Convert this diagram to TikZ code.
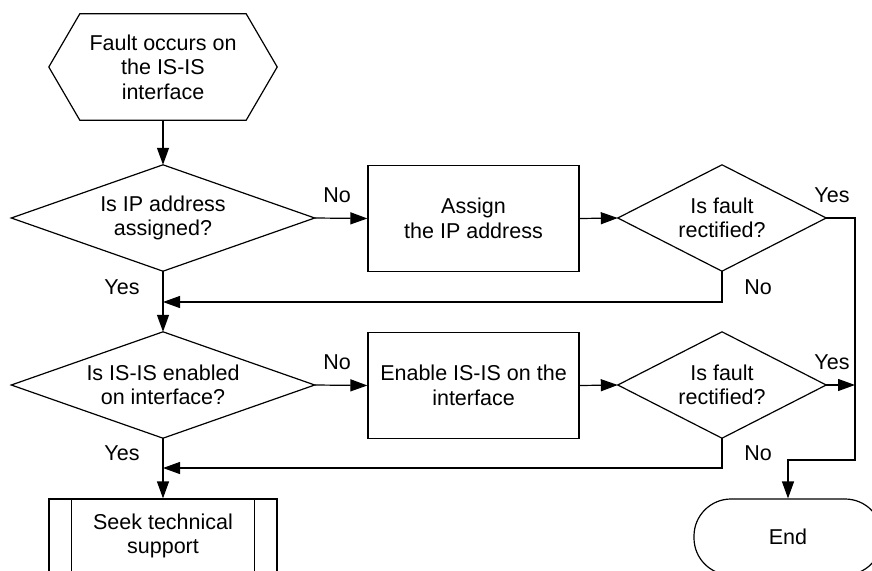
\documentclass[tikz,border=0pt]{standalone}
\usepackage{fontspec}
\setmainfont{Liberation Sans}
\usetikzlibrary{arrows.meta,calc}
\begin{document}
\begin{tikzpicture}[x=1pt,y=-1pt,
  font=\fontsize{21.5}{24.5}\selectfont,
  outline/.style={draw=black,line width=1.2pt},
  plain/.style={draw=black,line width=1.2pt},
  flow/.style={draw=black,line width=1.2pt,-{Triangle[length=17pt,width=12pt]}},
  frame/.style={inner sep=0pt,align=center,minimum width=#1},
  frame/.default=10pt,
  lbl/.style={inner sep=0pt}
]
\useasboundingbox (0,0) rectangle (872,570);
\clip (0,0) rectangle (872,570);

% blocks (outlines of hexagon and decisions are drawn below)
\node[frame=228pt,minimum height=106pt] (start) at (163,67) {Fault occurs on\\the IS-IS\\interface};
\node[frame=303pt,minimum height=106pt] (q1) at (163,218) {Is IP address\\assigned?};
\node[frame=211pt,minimum height=106pt,outline] (b1) at (473.5,218.5) {Assign\\the IP address};
\node[frame=208pt,minimum height=106pt] (q2) at (722,218) {Is fault\\rectified?};
\node[frame=303pt,minimum height=106pt] (q3) at (163,385) {Is IS-IS enabled\\on interface?};
\node[frame=211pt,minimum height=106pt,outline] (b2) at (473.5,385.5) {Enable IS-IS on the\\interface};
\node[frame=208pt,minimum height=106pt] (q4) at (722,385) {Is fault\\rectified?};
\node[frame=228pt,minimum height=74pt,outline] (s) at (163,536) {Seek technical\\support};
\node[frame=188pt,minimum height=76pt,outline,rounded corners=37pt] (e) at (788,537) {End};

% hexagon start symbol
\draw[outline] ([xshift=31pt]start.north west) -- ([xshift=-31pt]start.north east) -- (start.east)
  -- ([xshift=-31pt]start.south east) -- ([xshift=31pt]start.south west) -- (start.west) -- cycle;

% decision diamonds
\foreach \n in {q1,q2,q3,q4}
  \draw[outline] (\n.north) -- (\n.east) -- (\n.south) -- (\n.west) -- cycle;

% predefined-process side bars
\draw[plain] ([xshift=23pt]s.north west) -- ([xshift=23pt]s.south west);
\draw[plain] ([xshift=-23pt]s.north east) -- ([xshift=-23pt]s.south east);

% junction points
\coordinate (m1) at (163,302);
\coordinate (m2) at (163,468);
\coordinate (j1) at (855,460);

% connectors
\draw[flow] (start.south) -- (q1.north);
\draw[flow] (q1.east) -- (b1.west);
\draw[flow] (b1.east) -- (q2.west);
\draw[flow] (q2.south) |- (m1);
\draw[flow] (q1.south) -- (q3.north);
\draw[flow] (q3.east) -- (b2.west);
\draw[flow] (b2.east) -- (q4.west);
\draw[flow] (q4.south) |- (m2);
\draw[flow] (q3.south) -- (s.north);
\draw[flow] (q2.east) -| (j1) -| (e.north);
\draw[flow] (q4.east) -- (q4.east -| j1);

% branch labels
\node[lbl] (y1) at (122,287) {Yes};
\node[lbl] (n1) at (337,195) {No};
\node[lbl] (y2) at (832,195) {Yes};
\node[lbl] (n2) at (758,287) {No};
\node[lbl] (y3) at (122,453) {Yes};
\node[lbl] (n3) at (337,362) {No};
\node[lbl] (y4) at (832,362) {Yes};
\node[lbl] (n4) at (758,453) {No};
\end{tikzpicture}
\end{document}
